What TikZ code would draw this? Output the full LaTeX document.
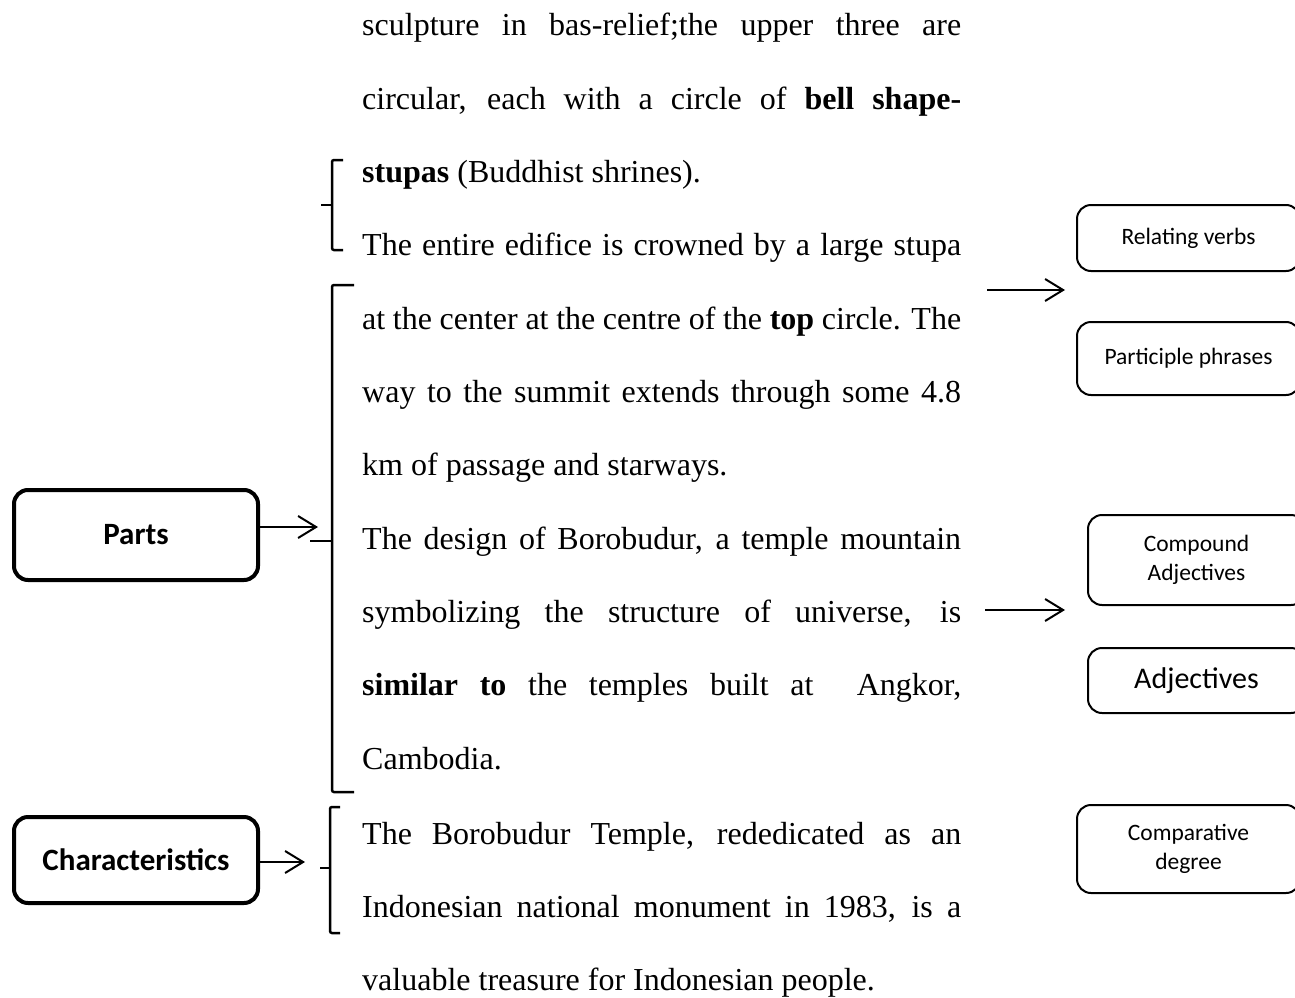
\documentclass[tikz,border=0pt]{standalone}
\usepackage{fontspec}
\setmainfont{Liberation Serif}
\newfontfamily\boxfont{Carlito}
\usetikzlibrary{arrows.meta}
\tikzset{
  bodyline/.style={anchor=base west, inner sep=0pt, font=\fontsize{32}{38}\selectfont},
  mainbox/.style={draw, line width=4pt, rounded corners=14pt, inner sep=0pt,
    minimum width=244pt, font=\boxfont\bfseries\fontsize{31}{36}\selectfont},
  sidebox/.style={draw, line width=2pt, rounded corners=14pt, inner sep=0pt, align=center,
    font=\boxfont\fontsize{23.5}{28.5}\selectfont},
  conn/.style={line width=2pt, -{Straight Barb[length=18pt,width=22pt,line width=2pt]}},
  bracketline/.style={line width=2.5pt, rounded corners=2pt},
}
\newcommand{\jline}[1]{\makebox[599pt][s]{#1}}
\begin{document}
\begin{tikzpicture}[x=1pt,y=-1pt]
\useasboundingbox (0,0) rectangle (1295,998);
\clip (0,0) rectangle (1295,998);

% paragraph text
\node[bodyline] (l1) at (362,36.0) {\jline{sculpture in bas-relief;the upper three are}};
\node[bodyline] (l2) at (362,109.3) {\jline{circular, each with a circle of \textbf{bell shape-}}};
\node[bodyline] (l3) at (362,182.6) {\textbf{stupas} (Buddhist shrines).};
\node[bodyline] (l4) at (362,255.9) {\jline{The entire edifice is crowned by a large stupa}};
\node[bodyline] (l5) at (362,329.2) {\jline{at the center at the centre of the \textbf{top} circle. The}};
\node[bodyline] (l6) at (362,402.5) {\jline{way to the summit extends through some 4.8}};
\node[bodyline] (l7) at (362,475.8) {km of passage and starways.};
\node[bodyline] (l8) at (362,549.1) {\jline{The design of Borobudur, a temple mountain}};
\node[bodyline] (l9) at (362,622.4) {\jline{symbolizing the structure of universe, is}};
\node[bodyline] (l10) at (362,695.7) {\jline{\textbf{similar to} the temples built at \ Angkor,}};
\node[bodyline] (l11) at (362,769.0) {Cambodia.};
\node[bodyline] (l12) at (362,844.3) {\jline{The Borobudur Temple, rededicated as an}};
\node[bodyline] (l13) at (362,917.6) {\jline{Indonesian national monument in 1983, is a}};
\node[bodyline] (l14) at (362,990.9) {valuable treasure for Indonesian people.};

% left boxes
\node[mainbox, minimum height=90pt] (parts) at (136,535) {Parts};
\node[mainbox, minimum height=86pt] (chars) at (136,860) {Characteristics};

% brackets
\draw[bracketline] (343,160) -- (332,160) -- (332,250) -- (343,250);
\draw[bracketline] (321,205) -- (332,205);
\draw[bracketline] (354,285) -- (332,285) -- (332,792) -- (354,792);
\draw[bracketline] (310,541) -- (332,541);
\draw[bracketline] (340,807) -- (330,807) -- (330,933) -- (340,933);
\draw[bracketline] (320,868) -- (330,868);

% left arrows
\coordinate (pa) at (318,527);
\coordinate (ca) at (305,862);
\draw[conn] (parts.east |- pa) -- (pa);
\draw[conn] (chars.east |- ca) -- (ca);

% right arrows
\coordinate (r1s) at (987,290);
\coordinate (r1e) at (1065,290);
\coordinate (r2s) at (985,610);
\coordinate (r2e) at (1065,610);
\draw[conn] (r1s) -- (r1e);
\draw[conn] (r2s) -- (r2e);

% right boxes
\node[sidebox, minimum width=223pt, minimum height=66pt] (relv) at (1188.5,238) {Relating verbs};
\node[sidebox, minimum width=223pt, minimum height=73pt] (partp) at (1188.5,358.5) {Participle phrases};
\node[sidebox, minimum width=217pt, minimum height=90pt] (compadj) at (1196.5,560) {Compound\\Adjectives};
\node[sidebox, minimum width=217pt, minimum height=65pt, font=\boxfont\fontsize{30}{36}\selectfont] (adj) at (1196.5,680.5) {Adjectives};
\node[sidebox, minimum width=223pt, minimum height=88pt] (compdeg) at (1188.5,849) {Comparative\\degree};
\end{tikzpicture}
\end{document}
